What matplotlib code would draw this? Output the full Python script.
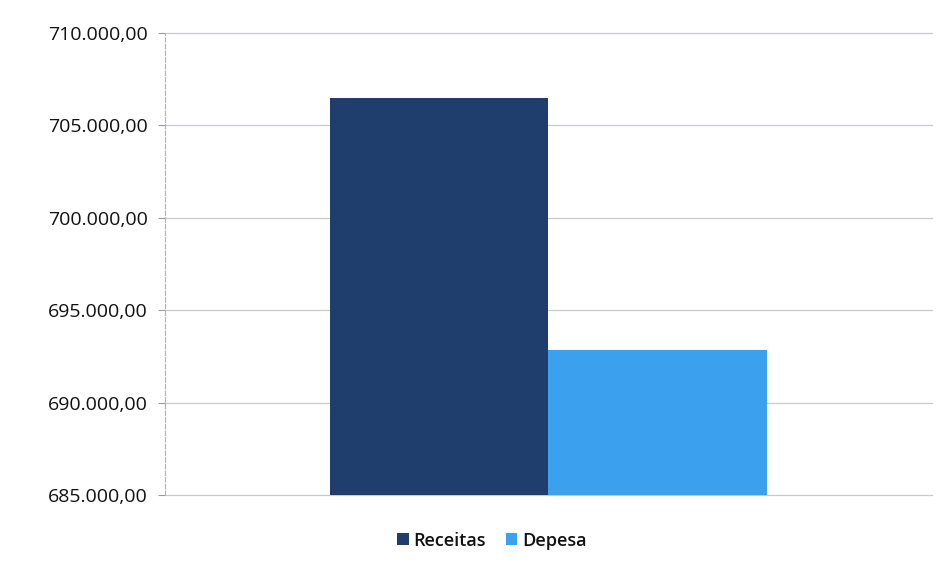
import numpy as np
import matplotlib.pyplot as plt
from matplotlib.ticker import FuncFormatter
from matplotlib.patches import Patch

plt.rcParams['font.family'] = ['Open Sans', 'DejaVu Sans']

series = ['Receitas', 'Depesa']
values = [706480, 692850]
colors = ['#1f3d6d', '#3ba1ee']
y_ticks = [685000, 690000, 695000, 700000, 705000, 710000]


def br_format(v, pos):
    s = f"{v:,.2f}"
    return s.replace(',', 'X').replace('.', ',').replace('X', '.')


fig = plt.figure(figsize=(9.51, 5.69), dpi=100)
ax = fig.add_axes([0.173, 0.13, 0.807, 0.812])

width = 0.285
offsets = [-width / 2, width / 2]
for name, val, col, off in zip(series, values, colors, offsets):
    ax.bar(off, val - y_ticks[0], width=width, bottom=y_ticks[0], color=col, zorder=3)

ax.set_xlim(-0.5, 0.5)
ax.set_ylim(y_ticks[0], y_ticks[-1])
ax.set_yticks(y_ticks)
ax.yaxis.set_major_formatter(FuncFormatter(br_format))
ax.set_xticks([])
ax.grid(axis='y', color='#c8c8d0', linewidth=0.9, zorder=0)
for gl in ax.get_ygridlines():
    gl.set_clip_on(False)

for side in ['top', 'right', 'bottom']:
    ax.spines[side].set_visible(False)
ax.spines['left'].set_color('#b0b0b8')
ax.spines['left'].set_linestyle((0, (4, 2)))
ax.tick_params(axis='y', length=5, color='#9a9aa2', labelsize=14, pad=7, labelcolor='#111111')
for lbl in ax.get_yticklabels():
    lbl.set_fontweight('medium')

handles = [Patch(facecolor=c, label=s) for s, c in zip(series, colors)]
leg = fig.legend(handles=handles, loc='center', bbox_to_anchor=(0.517, 0.05), ncol=2,
                 frameon=False, fontsize=13, handlelength=0.65, handleheight=0.65,
                 handletextpad=0.25, columnspacing=1.1)
for t in leg.get_texts():
    t.set_fontweight('semibold')
    t.set_color('#111111')

fig.savefig('out.png', dpi=100)
